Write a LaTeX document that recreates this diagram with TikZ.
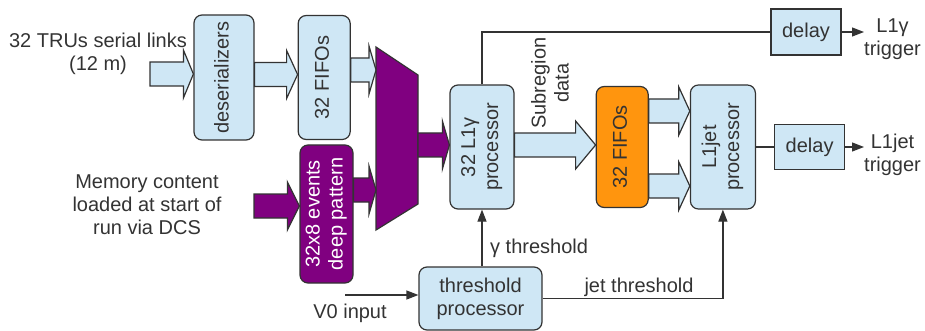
\documentclass[tikz,border=0pt]{standalone}
\usepackage{fontspec}
\setmainfont{Liberation Sans}
\usetikzlibrary{arrows.meta,positioning,calc}
\definecolor{boxblue}{HTML}{CFE7F5}
\definecolor{fifoorange}{HTML}{FF950E}
\definecolor{patpurple}{HTML}{800080}
\definecolor{inkgray}{HTML}{333333}

\newcommand{\vtext}[1]{\rotatebox{90}{\begin{tabular}{@{}c@{}}#1\end{tabular}}}
% fat arrow: style, start, end, y of its axis, head length
\newcommand{\fatarrow}[5]{%
  \path[#1] let \p1=(#2), \p2=(#3), \p3=(0,#4) in
    (\x1,\y3+12pt) -- (\x2-#5pt,\y3+12pt) -- (\x2-#5pt,\y3+24pt) -- (\x2,\y3)
    -- (\x2-#5pt,\y3-24pt) -- (\x2-#5pt,\y3-12pt) -- (\x1,\y3-12pt) -- cycle;}

\begin{document}
\begin{tikzpicture}[
  x=1pt, y=-1pt,
  font=\fontsize{20pt}{23pt}\selectfont,
  box/.style     = {draw=inkgray, fill=boxblue, rounded corners=8pt, line width=1.2pt,
                    inner sep=0pt, text=inkgray, align=center},
  fifobox/.style = {box, fill=fifoorange},
  patbox/.style  = {box, fill=patpurple, text=white},
  delaybox/.style= {box, sharp corners},
  fat/.style     = {draw=inkgray, fill=boxblue, line width=1.2pt},
  fatp/.style    = {fat, fill=patpurple},
  wire/.style    = {draw=inkgray, line width=1.2pt},
  feed/.style    = {wire, -{Triangle[length=12pt, width=9pt]}},
  lbl/.style     = {text=inkgray, align=center, inner sep=0pt},
]
\useasboundingbox (0,0) rectangle (925,331);

% ---------- input stage ----------------------------------------------------------------
\node[box, minimum width=60pt, minimum height=125pt] (des) at (224,77.5) {\vtext{deserializers}};
\node[box, minimum width=52pt, minimum height=124pt, right=43pt of des] (fifoA) {\vtext{32 FIFOs}};
\node[patbox, minimum width=53pt, minimum height=138pt] (pattern) at (326.5,214)
     {\vtext{32x8 events\\deep pattern}};
\node[lbl] (tru) at (98,54) {32 TRUs serial links\\(12 m)};
\coordinate (truin) at (150,74);
\node[lbl] (mem) at (147,205) {Memory content\\loaded at start of\\run via DCS};
\coordinate (memin) at (254,206);

% multiplexer
\path[fatp] (376,47) -- (418,75) -- (418,204) -- (376,230) -- cycle;
\coordinate (muxin) at (376,140);
\coordinate (muxout) at (418,140);

% ---------- processing stage -----------------------------------------------------------
\node[box, minimum width=64pt, minimum height=124pt] (L1g) at (482,147) {\vtext{32 L1γ\\processor}};
\node[fifobox, minimum width=52pt, minimum height=121pt, right=81pt of L1g] (fifoB) {\vtext{32 FIFOs}};
\node[box, minimum width=65pt, minimum height=124pt, right=41pt of fifoB] (jet) {\vtext{L1jet\\processor}};
\node[delaybox, minimum width=70pt, minimum height=46pt] (delA) at (806,32) {delay};
\node[delaybox, minimum width=70pt, minimum height=45pt, right=18pt of jet] (delB) {delay};
\node[lbl, anchor=west] (trgA) at (864,39) {L1γ\\trigger};
\node[lbl, anchor=west] (trgB) at (864,155) {L1jet\\trigger};
\node[lbl, rotate=90] (sub) at (550,83) {Subregion\\data};

\node[box, minimum width=123pt, minimum height=63pt] (thr) at (480.5,298.5) {threshold\\processor};
\coordinate (v0) at (345,295);
\node[lbl] (v0lbl) at (350,313) {V0 input};

% fat arrows
\fatarrow{fat}{truin}{des.west}{74}{10}
\fatarrow{fat}{des.east}{fifoA.west}{74.5}{11}
\fatarrow{fat}{fifoA.east}{muxin}{70}{7}
\fatarrow{fatp}{memin}{pattern.west}{206}{12}
\fatarrow{fatp}{pattern.east}{muxin}{190}{7}
\fatarrow{fatp}{muxout}{L1g.west}{145}{7}
\fatarrow{fat}{L1g.east}{fifoB.west}{145}{20}
\fatarrow{fat}{fifoB.east}{jet.west}{111}{11}
\fatarrow{fat}{fifoB.east}{jet.west}{186}{11}

% wires
\draw[wire] (L1g.north) |- (delA.west);
\draw[wire] (jet.east) -- (delB.west);
\draw[feed] (delA.east) -- (delA.east -| trgA.west);
\draw[feed] (delB.east) -- (delB.east -| trgB.west);
\draw[feed] (v0) -- (v0 -| thr.west);
\draw[feed] (L1g.south |- thr.north) -- (L1g.south);
\node[lbl, anchor=west] (gthr) at (490,248) {γ threshold};
\draw[feed] (thr.east) -| (jet.south);
\node[lbl] (jthr) at (639,287) {jet threshold};

\end{tikzpicture}
\end{document}
